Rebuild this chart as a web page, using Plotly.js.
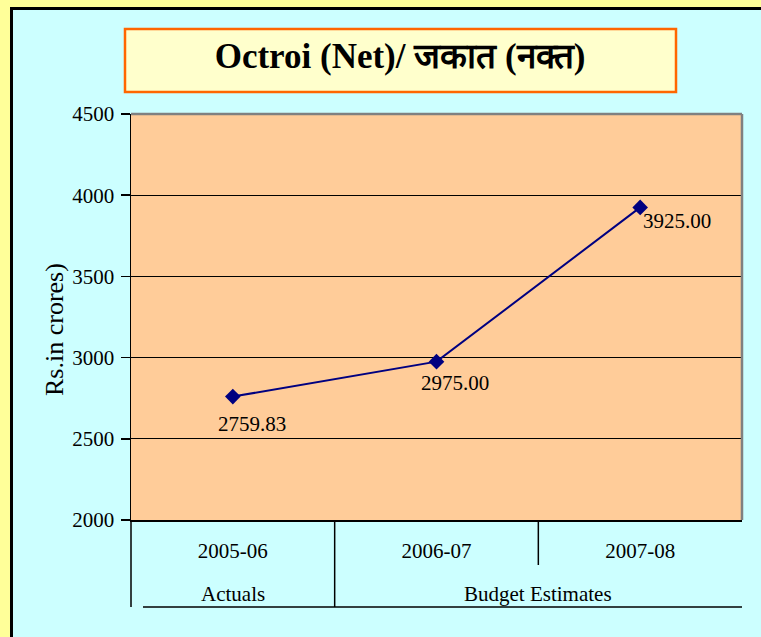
<!DOCTYPE html>
<html>
<head>
<meta charset="utf-8">
<script src="https://cdn.plot.ly/plotly-3.0.1.min.js"></script>
<style>html,body{margin:0;padding:0;background:#FFFF99;}#chart{width:761px;height:637px;}</style>
</head>
<body>
<div id="chart"></div>
<script>
// ---- data ----
const years = ['2005-06', '2006-07', '2007-08'];
const groups = ['Actuals', 'Budget Estimates', 'Budget Estimates'];
const values = [2759.83, 2975.00, 3925.00];
const yTicks = [2000, 2500, 3000, 3500, 4000, 4500];
const titleText = '<b>Octroi (Net)/ जकात (नक्त)</b>';
const yTitle = 'Rs.in crores)';

// label offsets (px) relative to each point
const labelShiftX = [19, 18, 37];
const labelShiftY = [-27, -21, -14];

const W = 761, H = 637;
const L = 131, R = 742, T = 114, B = 520;
const pw = R - L, ph = B - T;
const px = p => (p - L) / pw;
const py = p => (B - p) / ph;

const serif = 'Liberation Serif, Times New Roman, serif';

const trace = {
  x: years,
  y: values,
  type: 'scatter',
  mode: 'lines+markers',
  line: {color: '#000080', width: 2},
  marker: {symbol: 'diamond', size: 12, color: '#000080'},
  hoverinfo: 'x+y'
};

const annotations = values.map((v, i) => ({
  x: years[i], y: v, xref: 'x', yref: 'y',
  text: v.toFixed(2), showarrow: false,
  xanchor: 'center', yanchor: 'middle',
  xshift: labelShiftX[i], yshift: labelShiftY[i],
  font: {family: serif, size: 21, color: '#000'}
}));

// group labels centred over their categories
const groupNames = [...new Set(groups)];
groupNames.forEach(g => {
  const idx = groups.map((v, i) => v === g ? i : -1).filter(i => i >= 0);
  const c = idx.reduce((a, b) => a + b, 0) / idx.length;
  annotations.push({
    x: c, y: py(594), xref: 'x', yref: 'paper',
    text: g, showarrow: false, xanchor: 'center', yanchor: 'middle',
    font: {family: serif, size: 21, color: '#000'}
  });
});

// y-axis title (placed as rotated annotation)
annotations.push({
  x: px(54), y: py(330), xref: 'paper', yref: 'paper',
  text: yTitle, showarrow: false, textangle: -90,
  xanchor: 'center', yanchor: 'middle',
  font: {family: serif, size: 26, color: '#000'}
});

const shapes = [
  // outer cyan panel with black frame
  {type: 'rect', xref: 'paper', yref: 'paper', layer: 'below',
   x0: px(11.5), x1: px(790), y0: py(680), y1: py(8.5),
   fillcolor: '#CCFFFF', line: {color: '#000', width: 3}},
  // plot area fill
  {type: 'rect', xref: 'paper', yref: 'paper', layer: 'below',
   x0: 0, x1: 1, y0: 0, y1: 1, fillcolor: '#FFCC99', line: {width: 0}},
  // title box
  {type: 'rect', xref: 'paper', yref: 'paper', layer: 'below',
   x0: px(125), x1: px(676), y0: py(92), y1: py(29),
   fillcolor: '#FFFFCC', line: {color: '#FF6600', width: 2.5}},
  // gray top/right plot border
  {type: 'line', xref: 'paper', yref: 'paper', layer: 'above',
   x0: 0, x1: 1, y0: 1, y1: 1, line: {color: '#808080', width: 2.5}},
  {type: 'line', xref: 'paper', yref: 'paper', layer: 'above',
   x0: 1, x1: 1, y0: 0, y1: 1, line: {color: '#808080', width: 2.5}},
  // category table lines
  {type: 'line', xref: 'paper', yref: 'paper', x0: 0, x1: 0, y0: 0, y1: py(607), line: {color: '#000', width: 1.5}},
  {type: 'line', xref: 'x', yref: 'paper', x0: 0.5, x1: 0.5, y0: 0, y1: py(607), line: {color: '#000', width: 1.5}},
  {type: 'line', xref: 'x', yref: 'paper', x0: 1.5, x1: 1.5, y0: 0, y1: py(565), line: {color: '#000', width: 1.5}},
  {type: 'line', xref: 'paper', yref: 'paper', x0: px(143), x1: 1, y0: py(607), y1: py(607), line: {color: '#000', width: 1.5}}
];

const layout = {
  width: W, height: H,
  margin: {l: L, r: W - R, t: T, b: H - B, pad: 0},
  paper_bgcolor: '#FFFF99',
  plot_bgcolor: 'rgba(0,0,0,0)',
  showlegend: false,
  title: {
    text: titleText, xref: 'paper', x: px(400), xanchor: 'center',
    yref: 'container', y: 1 - 56 / H, yanchor: 'middle',
    font: {family: serif, size: 35, color: '#000'}
  },
  xaxis: {
    type: 'category', range: [-0.5, 2.5],
    showgrid: false, zeroline: false,
    showline: true, linecolor: '#000', linewidth: 1.5,
    ticks: '', ticklabelstandoff: 11,
    tickfont: {family: serif, size: 21, color: '#000'},
    fixedrange: true
  },
  yaxis: {
    range: [2000, 4500], tickvals: yTicks, ticktext: yTicks.map(String),
    showgrid: true, gridcolor: '#000', gridwidth: 1,
    zeroline: false, showline: true, linecolor: '#000', linewidth: 1.5,
    ticks: 'outside', ticklen: 9, tickcolor: '#000', tickwidth: 1.5,
    ticklabelstandoff: 2,
    tickfont: {family: serif, size: 21, color: '#000'},
    fixedrange: true
  },
  shapes: shapes,
  annotations: annotations
};

Plotly.newPlot('chart', [trace], layout, {displayModeBar: false, staticPlot: true});
</script>
</body>
</html>
